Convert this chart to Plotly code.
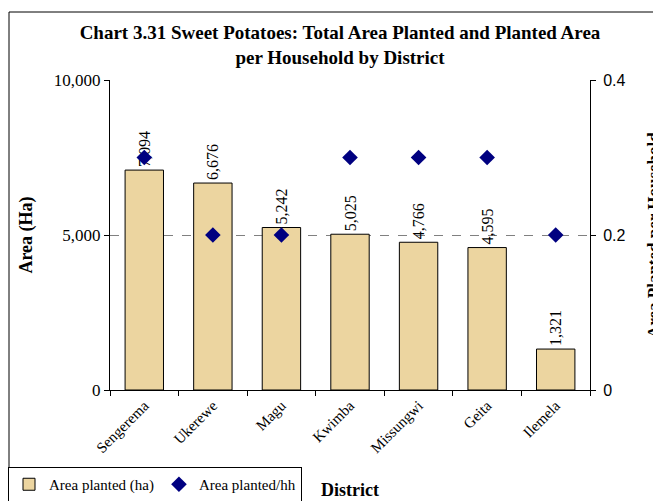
import plotly.graph_objects as go

districts = ["Sengerema", "Ukerewe", "Magu", "Kwimba", "Missungwi", "Geita", "Ilemela"]
area_ha = [7094, 6676, 5242, 5025, 4766, 4595, 1321]
area_per_hh = [0.3, 0.2, 0.2, 0.3, 0.3, 0.3, 0.2]

serif = "Liberation Serif, Times New Roman, serif"
sans = "Liberation Sans, Arial, sans-serif"

W, H = 653, 501
L, R, T, B = 110, 590, 80, 390  # plot area in pixels
pw, ph = R - L, B - T


def px(x):
    return (x - L) / pw


def py(y):
    return (B - y) / ph


fig = go.Figure()

fig.add_trace(go.Bar(
    name="Area planted (ha)",
    x=districts, y=area_ha,
    marker=dict(color="#ECD5A0", line=dict(color="black", width=1)),
    width=0.56,
    text=[f"{v:,}" for v in area_ha],
    textposition="outside", textangle=-90,
    textfont=dict(family=serif, size=16, color="black"),
    cliponaxis=False,
))

fig.add_trace(go.Scatter(
    name="Area planted/hh",
    x=districts, y=area_per_hh, yaxis="y2",
    mode="markers",
    marker=dict(symbol="diamond", size=12, color="#000080"),
))

fig.update_layout(
    width=W, height=H,
    margin=dict(l=L, r=W - R, t=T, b=H - B, autoexpand=False),
    paper_bgcolor="white", plot_bgcolor="white",
    font=dict(family=serif, size=15, color="black"),
    title=dict(
        text="<b>Chart 3.31 Sweet Potatoes: Total Area Planted and Planted Area<br>per Household by District</b>",
        x=px(340), xref="paper", xanchor="center",
        y=1 - 39 / H, yanchor="top",
        font=dict(family=serif, size=19, color="black"),
    ),
    xaxis=dict(
        showline=True, linecolor="black", linewidth=1,
        ticks="outside", ticklen=5, tickcolor="black", tickson="boundaries",
        tickangle=-45, tickfont=dict(family=serif, size=15),
        showgrid=False,
    ),
    yaxis=dict(
        range=[0, 10000], dtick=5000, tickformat=",",
        showline=True, linecolor="black", linewidth=1,
        ticks="outside", ticklen=5, tickcolor="black",
        showgrid=True, gridcolor="#808080", griddash="dash", gridwidth=1,
        zeroline=False,
        tickfont=dict(family=serif, size=17),
        title=dict(text="<b>Area (Ha)</b>", font=dict(family=serif, size=18), standoff=16),
    ),
    yaxis2=dict(
        range=[0, 0.4], dtick=0.2, overlaying="y", side="right",
        showline=True, linecolor="black", linewidth=1,
        ticks="outside", ticklen=5, tickcolor="black",
        ticklabelstandoff=4,
        showgrid=False, zeroline=False,
        tickfont=dict(family=sans, size=16),
    ),
    showlegend=True,
    legend=dict(
        orientation="h",
        x=px(8), xanchor="left", xref="paper",
        y=py(467), yanchor="top", yref="paper",
        bordercolor="black", borderwidth=1, bgcolor="white",
        font=dict(family=serif, size=15),
        itemwidth=30,
    ),
)

fig.add_annotation(
    text="<b>District</b>", xref="paper", yref="paper",
    x=px(350), y=py(490), xanchor="center", yanchor="middle",
    showarrow=False, font=dict(family=serif, size=18),
)
fig.add_annotation(
    text="<b>Area Planted per Household</b>", xref="paper", yref="paper",
    x=px(653), y=0.5, xanchor="center", yanchor="middle",
    textangle=-90, showarrow=False, font=dict(family=serif, size=17),
)

# outer chart frame
fig.add_shape(
    type="rect", xref="paper", yref="paper",
    x0=px(9), x1=px(720), y0=py(580), y1=py(12),
    line=dict(color="black", width=1), fillcolor="rgba(0,0,0,0)",
    layer="below",
)

fig.write_html(
    "out.html",
    config={"displayModeBar": False},
    post_script="document.body.style.margin='0';"
                "document.documentElement.style.overflow='hidden';",
)
